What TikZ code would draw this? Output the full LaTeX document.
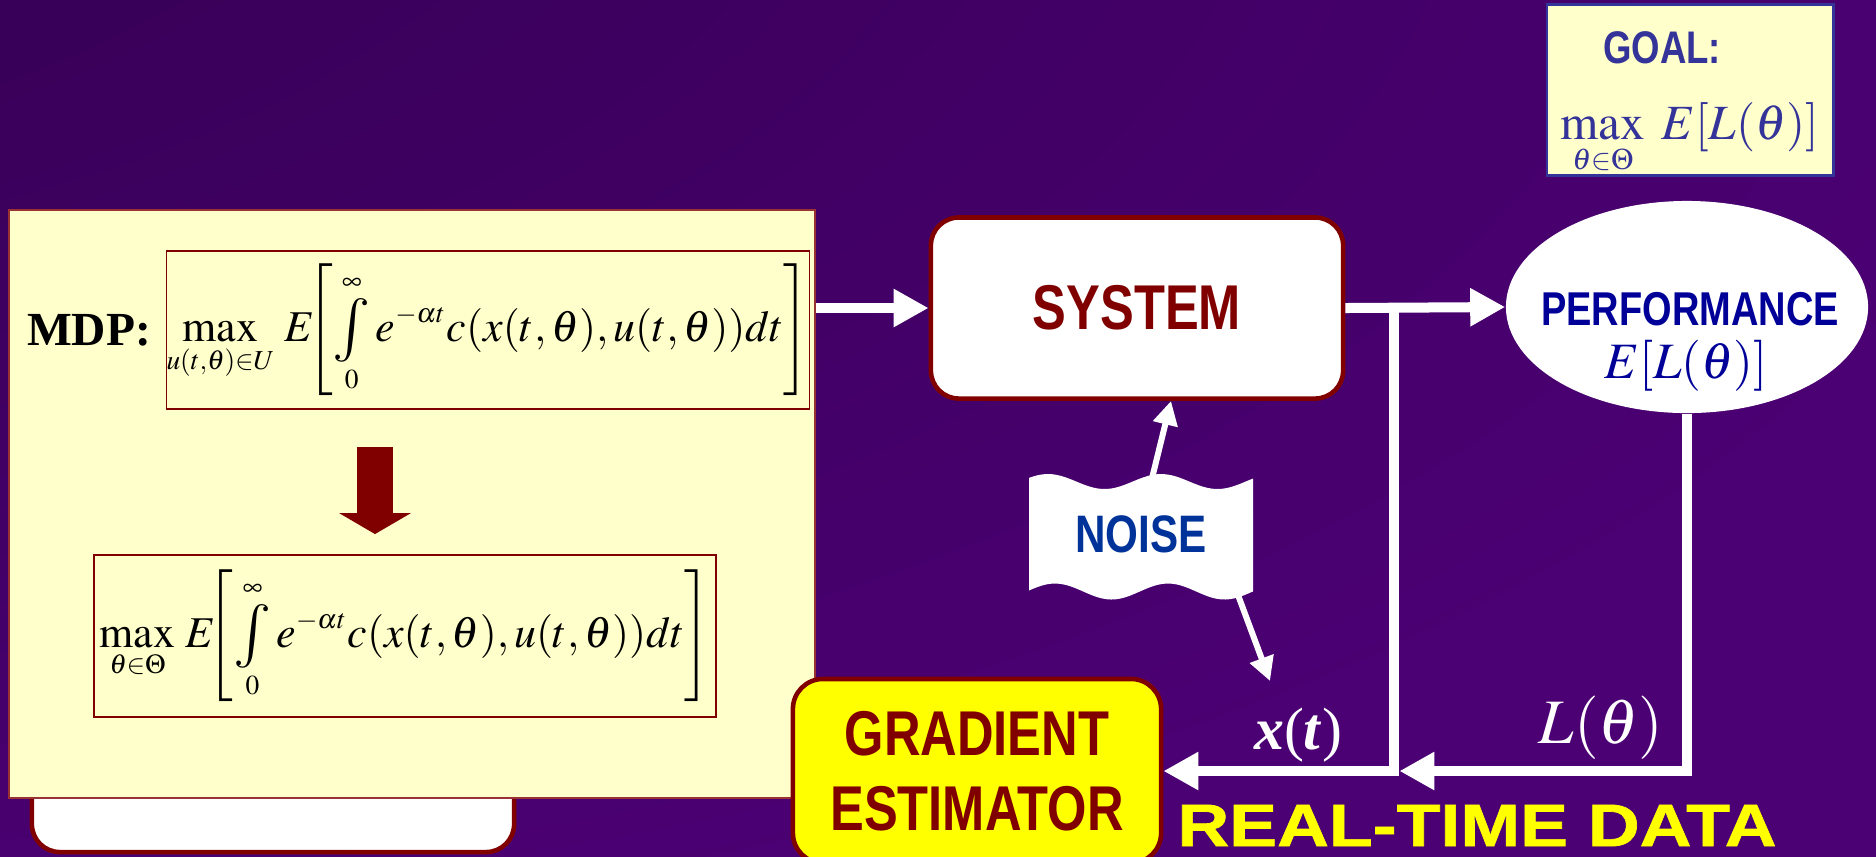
\documentclass[tikz,border=0pt]{standalone}
\usepackage{amsmath}
\usepackage{mathptmx}
\usepackage{graphicx}
\usepackage{fontspec}
\setmainfont{Liberation Serif}
\newfontfamily\narrowsf{Liberation Sans}[FakeStretch=0.8]
\newfontfamily\widesf{Liberation Sans}[FakeStretch=1.2,FakeBold=1.2]
\DeclareMathSizes{12.5}{12.5}{7.8}{5.8}
\DeclareMathSizes{14}{14}{8.5}{6.5}
\newcommand{\slideint}{\mathop{\vcenter{\hbox{\scalebox{1.45}{$\textstyle\int$}}}}\limits}
\usepackage{xcolor}
\usetikzlibrary{arrows.meta,shapes.geometric,positioning,calc}
\definecolor{bgDark}{RGB}{42,0,68}
\definecolor{bgLight}{RGB}{75,0,115}
\definecolor{bgDeep}{RGB}{58,0,92}
\definecolor{darkRed}{RGB}{128,0,0}
\definecolor{paleYellow}{RGB}{255,255,204}
\definecolor{brightYellow}{RGB}{255,255,0}
\definecolor{perfBlue}{RGB}{0,0,153}
\definecolor{noiseBlue}{RGB}{0,51,153}
\definecolor{goalBlue}{RGB}{51,51,153}
\pgfdeclareradialshading{slideglow}{\pgfpoint{-50bp}{50bp}}{%
  color(0bp)=(bgDark); color(25bp)=(bgDark!55!bgLight); color(60bp)=(bgLight);
  color(105bp)=(bgLight); color(145bp)=(bgDeep)}
\tikzset{
  panelbox/.style={
    rectangle, draw=darkRed!80, line width=0.6pt, fill=paleYellow, inner sep=0pt
  },
  formulabox/.style={
    rectangle, draw=darkRed, line width=0.5pt, fill=paleYellow, inner sep=0pt
  },
  blockbox/.style={
    rectangle, rounded corners=0.28cm, draw=darkRed, line width=1.3pt, inner sep=0pt
  },
  flowArrow/.style={draw=white, line width=0.1cm, -{Triangle[width=0.36cm,length=0.35cm]}},
  thinArrow/.style={draw=white, line width=0.06cm, -{Triangle[width=0.24cm,length=0.24cm]}},
  bigDown/.style={draw=darkRed, line width=0.36cm, -{Triangle[width=0.71cm,length=0.21cm]}}
}
\begin{document}
\begin{tikzpicture}[x=0.01cm, y=-0.01cm]
  \useasboundingbox (0,0) rectangle (1876,856);
  \clip (0,0) rectangle (1876,856);
  \shade[shading=slideglow] (0,0) rectangle (1876,856);

  % left panel: the two optimisation problems
  \node[blockbox, fill=white, minimum width=4.82cm, minimum height=1.52cm] (stub) at (273,776) {};
  \node[panelbox, minimum width=8.06cm, minimum height=5.88cm] (panel) at (412,504) {};
  \node[formulabox, minimum width=6.39cm, minimum height=1.58cm,
        font=\fontsize{12.5}{15}\selectfont] (mdp) at (488,330)
    {$\displaystyle\max_{u(t,\theta)\in U}\, E\mkern-5mu\left[\slideint_0^\infty e^{-\alpha t}c(x(t,\theta),u(t,\theta))dt\right]$};
  \node[left=0.14cm of mdp, inner sep=0pt, font=\fontsize{13.5}{16}\selectfont\bfseries] (mdplabel) {MDP:};
  \node[formulabox, minimum width=6.22cm, minimum height=1.62cm,
        font=\fontsize{12.5}{15}\selectfont] (relaxed) at (405,636)
    {$\displaystyle\max_{\theta\in\Theta}\, E\mkern-5mu\left[\slideint_0^\infty e^{-\alpha t}c(x(t,\theta),u(t,\theta))dt\right]$};
  \draw[bigDown, shorten <=0.37cm, shorten >=0.2cm]
    ($(mdp.south)+(-113,0)$) -- ($(relaxed.north)+(-30,0)$);

  % system and performance
  \node[blockbox, fill=white, minimum width=4.12cm, minimum height=1.81cm, text=darkRed,
        font=\narrowsf\bfseries\fontsize{18}{20}\selectfont] (system) at (1137,308) {SYSTEM};
  \node[ellipse, fill=white, minimum width=3.62cm, minimum height=2.12cm, inner sep=0pt] (perf) at (1687,307) {};
  \node[text=perfBlue, font=\narrowsf\bfseries\fontsize{13.5}{15}\selectfont] (perftitle) at (1690,309) {PERFORMANCE};
  \node[text=perfBlue, font=\fontsize{14.5}{16}\selectfont] (perfexpr) at (1686,366) {$E[L(\theta)]$};

  % goal
  \node[rectangle, draw=goalBlue, line width=0.8pt, fill=paleYellow,
        minimum width=2.86cm, minimum height=1.71cm] (goal) at (1690,90) {};
  \node[text=goalBlue, font=\narrowsf\bfseries\fontsize{13}{15}\selectfont] (goaltitle) at (1662,48) {GOAL:};
  \node[text=goalBlue, anchor=base, font=\fontsize{14}{16}\selectfont] (goalexpr) at (1690,139)
    {$\displaystyle\max_{\theta\in\Theta}\; E[L(\theta)]$};

  % noise
  \fill[white] plot[domain=1029:1253, samples=50] (\x, {481.5-7.5*cos(3.1858*(\x-1048))})
    -- plot[domain=1253:1029, samples=50] (\x, {591.5-8*cos(3.1858*(\x-1055))}) -- cycle;
  \node[minimum width=2.24cm, minimum height=1.1cm, text=noiseBlue,
        font=\narrowsf\bfseries\fontsize{15}{17}\selectfont] (noise) at (1141,534) {NOISE};

  % gradient estimator
  \node[blockbox, fill=brightYellow, rounded corners=0.3cm, minimum width=3.68cm, minimum height=1.84cm,
        align=center, text=darkRed, font=\narrowsf\bfseries\fontsize{18}{21.5}\selectfont] (grad) at (977,771)
    {GRADIENT\\ESTIMATOR};
  \node[text=brightYellow, anchor=base, font=\widesf\bfseries\fontsize{17}{19}\selectfont] (rtdata) at (1477,846)
    {REAL-TIME DATA};

  % connectors
  \coordinate (tap) at ($(system.east)+(49,0)$);
  \coordinate (xin) at (1270,681);
  \draw[flowArrow] (panel.east |- system.west) -- (system.west);
  \draw[flowArrow] (system.east) -- (perf.west);
  \draw[flowArrow] (tap) |- (grad.east);
  \draw[flowArrow, shorten >=0.05cm] (perf.south) |- (tap |- grad.east);
  \draw[thinArrow] ([xshift=0.11cm]noise.north) -- ([xshift=0.34cm]system.south);
  \draw[thinArrow] ([xshift=0.95cm]noise.south) -- (xin);

  \node[text=white, font=\fontsize{17}{19}\selectfont] (xlabel) at (1298,735) {\textbf{\textit{x}}(\textbf{\textit{t}})};
  \node[text=white, font=\fontsize{18}{20}\selectfont] (llabel) at (1601,728) {$L(\theta)$};
\end{tikzpicture}
\end{document}
